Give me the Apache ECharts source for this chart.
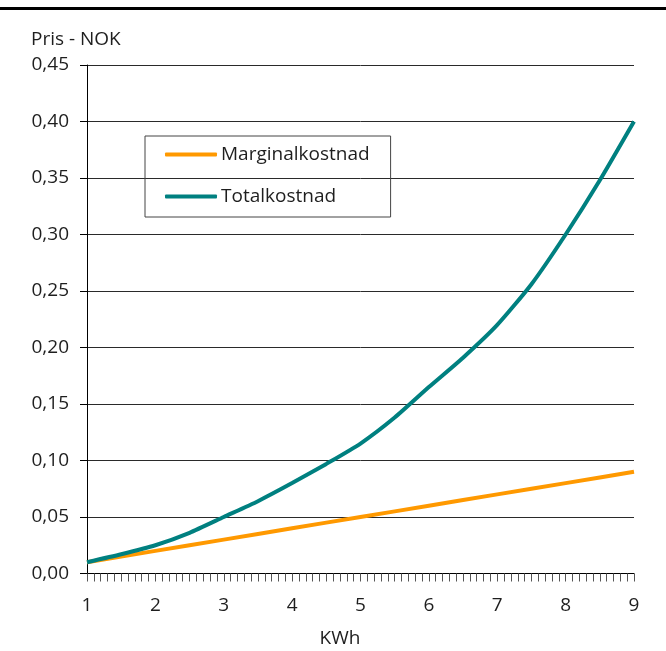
<!DOCTYPE html>
<html>
<head>
<meta charset="utf-8">
<script src="https://cdn.jsdelivr.net/npm/echarts@6/dist/echarts.min.js"></script>
<style>
  html, body { margin: 0; padding: 0; background: #fff; }
  #chart { width: 666px; height: 651px; }
</style>
</head>
<body>
<div id="chart"></div>
<script>
// Consumption in kWh
const kwh = [1, 1.5, 2, 2.5, 3, 3.5, 4, 4.5, 5, 5.5, 6, 6.5, 7, 7.5, 8, 8.5, 9];
// Marginal cost per kWh (NOK)
const marginalkostnad = [0.010, 0.015, 0.020, 0.025, 0.030, 0.035, 0.040, 0.045, 0.050,
                         0.055, 0.060, 0.065, 0.070, 0.075, 0.080, 0.085, 0.090];
// Total cost (NOK)
const totalkostnad = [0.010, 0.017, 0.025, 0.036, 0.050, 0.064, 0.080, 0.097, 0.115,
                      0.138, 0.165, 0.191, 0.220, 0.256, 0.300, 0.348, 0.400];
const seriesNames = ['Marginalkostnad', 'Totalkostnad'];
const yTicks = ['0,00', '0,05', '0,10', '0,15', '0,20', '0,25', '0,30', '0,35', '0,40', '0,45'];

const FONT = '"Open Sans", "Noto Sans", sans-serif';
const TXT = '#1e1e1e';

const chart = echarts.init(document.getElementById('chart'), null, { renderer: 'canvas' });

const pairs = (vals) => kwh.map((x, i) => [x, vals[i]]);

chart.setOption({
  animation: false,
  backgroundColor: '#ffffff',
  textStyle: { fontFamily: FONT },
  grid: { left: 87, right: 32, top: 65, height: 508.5, containLabel: false },
  graphic: [
    {
      type: 'line',
      shape: { x1: 0, y1: 8.5, x2: 666, y2: 8.5 },
      style: { stroke: '#000', lineWidth: 3 }
    },
    {
      type: 'text',
      left: 31,
      top: 30,
      style: { text: 'Pris - NOK', fontFamily: FONT, fontSize: 19, fill: TXT }
    },
    {
      type: 'text',
      x: 340,
      y: 639,
      style: { text: 'KWh', fontFamily: FONT, fontSize: 19, fill: TXT, align: 'center', verticalAlign: 'middle' }
    }
  ],
  legend: {
    orient: 'vertical',
    left: 145,
    top: 136,
    padding: [9, 21, 11, 20],
    itemGap: 23,
    itemWidth: 52,
    itemHeight: 4,
    icon: 'roundRect',
    borderColor: '#444',
    borderWidth: 1,
    textStyle: { fontFamily: FONT, fontSize: 19, color: TXT, padding: [0, 0, 0, -1] },
    data: seriesNames
  },
  xAxis: {
    type: 'value',
    min: 1,
    max: 9,
    interval: 1,
    axisLine: { show: true, lineStyle: { color: '#000', width: 1 } },
    axisTick: { show: true, length: 8, lineStyle: { color: '#555', width: 1 } },
    minorTick: { show: true, splitNumber: 10, length: 8, lineStyle: { color: '#555', width: 1 } },
    splitLine: { show: false },
    axisLabel: { margin: 23, fontFamily: FONT, fontSize: 19, color: TXT }
  },
  yAxis: {
    type: 'value',
    min: 0,
    max: 0.45,
    interval: 0.05,
    axisLine: { show: true, lineStyle: { color: '#000', width: 1 } },
    axisTick: { show: true, length: 7, lineStyle: { color: '#000', width: 1 } },
    splitLine: { show: true, lineStyle: { color: '#2a2a2a', width: 1 } },
    axisLabel: {
      margin: 18,
      fontFamily: FONT,
      fontSize: 19,
      color: TXT,
      formatter: (v) => yTicks[Math.round(v / 0.05)]
    }
  },
  series: [
    {
      name: seriesNames[0],
      type: 'line',
      data: pairs(marginalkostnad),
      showSymbol: false,
      symbol: 'none',
      color: '#ff9900',
      lineStyle: { width: 4, color: '#ff9900' }
    },
    {
      name: seriesNames[1],
      type: 'line',
      data: pairs(totalkostnad),
      showSymbol: false,
      symbol: 'none',
      smooth: 0.2,
      color: '#008080',
      lineStyle: { width: 4, color: '#008080' }
    }
  ]
});
</script>
</body>
</html>
